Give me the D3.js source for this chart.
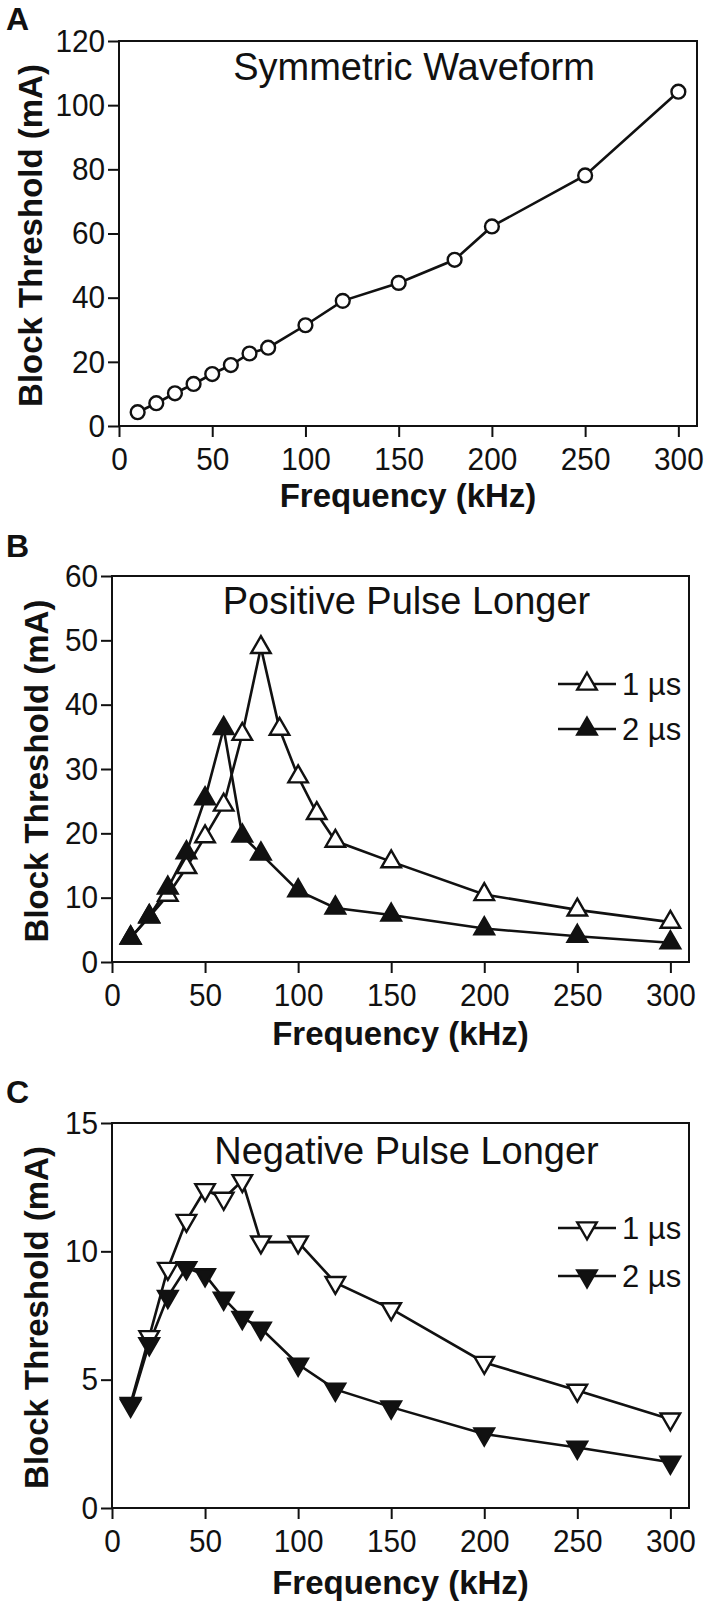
<!DOCTYPE html>
<html><head><meta charset="utf-8">
<script src="https://cdn.jsdelivr.net/npm/d3@7"></script>
<style>
html,body{margin:0;padding:0;background:#fff;}
svg{display:block;font-family:"Liberation Sans",Arial,sans-serif;}
</style></head>
<body><svg id="chart" width="708" height="1607"></svg>
<script>
// ---------- data ----------
const xTicks = [0, 50, 100, 150, 200, 250, 300];

const freqA = [10, 20, 30, 40, 50, 60, 70, 80, 100, 120, 150, 180, 200, 250, 300];
const symmetricA = [4.3, 7.1, 10.2, 13.1, 16.2, 19.0, 22.6, 24.4, 31.4, 39.0, 44.6, 51.8, 62.2, 78.1, 104.2];
const yTicksA = [0, 20, 40, 60, 80, 100, 120];

const freqB1 = [10, 20, 30, 40, 50, 60, 70, 80, 90, 100, 110, 120, 150, 200, 250, 300];
const positive1us = [3.75, 7.0, 10.4, 14.7, 19.5, 24.4, 35.4, 48.9, 36.2, 28.8, 23.1, 18.8, 15.6, 10.5, 8.1, 6.2];
const freqB2 = [10, 20, 30, 40, 50, 60, 70, 80, 100, 120, 150, 200, 250, 300];
const positive2us = [3.75, 7.1, 11.5, 17.0, 25.4, 36.3, 19.6, 16.8, 11.1, 8.4, 7.3, 5.2, 4.0, 3.0];
const yTicksB = [0, 10, 20, 30, 40, 50, 60];

const freqC = [10, 20, 30, 40, 50, 60, 70, 80, 100, 120, 150, 200, 250, 300];
const negative1us = [4.07, 6.67, 9.33, 11.2, 12.4, 12.06, 12.75, 10.36, 10.36, 8.78, 7.76, 5.67, 4.58, 3.46];
const negative2us = [4.0, 6.4, 8.24, 9.36, 9.08, 8.17, 7.42, 7.0, 5.6, 4.62, 3.93, 2.88, 2.36, 1.78];
const yTicksC = [0, 5, 10, 15];

const legendLabels = ["1 \u00b5s", "2 \u00b5s"];

// ---------- layout ----------
const panels = [
  { letter: "A", title: "Symmetric Waveform", left: 119, right: 697, top: 41, bottom: 426,
    yMax: 120, yTicks: yTicksA, letterY: 30, titleY: 80, yTitleX: 42, xTitleDy: 81,
    series: [{ x: freqA, y: symmetricA, shape: "circle", filled: false }], legend: null },
  { letter: "B", title: "Positive Pulse Longer", left: 112, right: 689, top: 576, bottom: 962,
    yMax: 60, yTicks: yTicksB, letterY: 557, titleY: 614, yTitleX: 48, xTitleDy: 83,
    series: [{ x: freqB1, y: positive1us, shape: "up", filled: false },
             { x: freqB2, y: positive2us, shape: "up", filled: true }],
    legend: { y: [684, 729] } },
  { letter: "C", title: "Negative Pulse Longer", left: 112, right: 689, top: 1123, bottom: 1508,
    yMax: 15, yTicks: yTicksC, letterY: 1103, titleY: 1164, yTitleX: 48, xTitleDy: 86,
    series: [{ x: freqC, y: negative1us, shape: "down", filled: false },
             { x: freqC, y: negative2us, shape: "down", filled: true }],
    legend: { y: [1228, 1276] } }
];

const svg = d3.select("#chart");
svg.append("rect").attr("width", 708).attr("height", 1607).attr("fill", "#fff");

function symbolPath(shape) {
  if (shape === "circle") return d3.symbol().type(d3.symbolCircle).size(150)();
  return d3.symbol().type(d3.symbolTriangle).size(165)();
}

panels.forEach(p => {
  const g = svg.append("g");
  const x = d3.scaleLinear().domain([0, 310]).range([p.left, p.right]);
  const y = d3.scaleLinear().domain([0, p.yMax]).range([p.bottom, p.top]);

  // axes
  const xa = g.append("g").attr("transform", `translate(0,${p.bottom})`)
    .call(d3.axisBottom(x).tickValues(xTicks).tickSize(11).tickSizeOuter(0).tickPadding(10));
  const ya = g.append("g").attr("transform", `translate(${p.left},0)`)
    .call(d3.axisLeft(y).tickValues(p.yTicks).tickSize(11).tickSizeOuter(0).tickPadding(4));
  [xa, ya].forEach(a => {
    a.select(".domain").remove();
    a.selectAll(".tick line").attr("stroke", "#111").attr("stroke-width", 2);
    a.selectAll(".tick text").attr("fill", "#111").attr("font-size", 32)
      .attr("font-family", "'Liberation Sans',Arial,sans-serif")
      .attr("transform", "scale(0.93,1)");
  });

  // frame
  g.append("rect").attr("x", p.left).attr("y", p.top)
    .attr("width", p.right - p.left).attr("height", p.bottom - p.top)
    .attr("fill", "none").attr("stroke", "#111").attr("stroke-width", 2);

  // series
  const line = d3.line().x(d => x(d[0])).y(d => y(d[1]));
  p.series.forEach(s => {
    const pts = s.x.map((v, i) => [v, s.y[i]]);
    g.append("path").datum(pts).attr("d", line)
      .attr("fill", "none").attr("stroke", "#111").attr("stroke-width", 2.6);
  });
  p.series.forEach(s => {
    const pts = s.x.map((v, i) => [v, s.y[i]]);
    g.selectAll(null).data(pts).enter().append("path")
      .attr("d", symbolPath(s.shape))
      .attr("transform", d => `translate(${x(d[0])},${y(d[1])})` + (s.shape === "down" ? " rotate(180)" : ""))
      .attr("fill", s.filled ? "#111" : "#fff")
      .attr("stroke", "#111").attr("stroke-width", 2.4);
  });

  // legend
  if (p.legend) {
    p.series.forEach((s, i) => {
      const ly = p.legend.y[i];
      g.append("line").attr("x1", 558).attr("x2", 616).attr("y1", ly).attr("y2", ly)
        .attr("stroke", "#111").attr("stroke-width", 2.6);
      g.append("path").attr("d", symbolPath(s.shape))
        .attr("transform", `translate(587,${ly})` + (s.shape === "down" ? " rotate(180)" : ""))
        .attr("fill", s.filled ? "#111" : "#fff").attr("stroke", "#111").attr("stroke-width", 2.4);
      g.append("text").attr("x", 622).attr("y", ly).attr("dy", "0.36em")
        .attr("font-size", 31).attr("fill", "#111").text(legendLabels[i]);
    });
  }

  // texts
  g.append("text").attr("x", 6).attr("y", p.letterY).attr("font-size", 32)
    .attr("font-weight", "bold").attr("fill", "#111").text(p.letter);
  g.append("text").attr("x", (p.left + p.right) / 2 + 6).attr("y", p.titleY)
    .attr("text-anchor", "middle").attr("font-size", 38).attr("fill", "#111")
    .text(p.title);
  g.append("text").attr("x", (p.left + p.right) / 2).attr("y", p.bottom + p.xTitleDy)
    .attr("text-anchor", "middle").attr("font-size", 33).attr("font-weight", "bold")
    .attr("fill", "#111").text("Frequency (kHz)");
  g.append("text")
    .attr("transform", `translate(${p.yTitleX},${(p.top + p.bottom) / 2 + 2}) rotate(-90)`)
    .attr("text-anchor", "middle").attr("font-size", 33).attr("font-weight", "bold")
    .attr("fill", "#111").text("Block Threshold (mA)");
});
</script></body></html>
